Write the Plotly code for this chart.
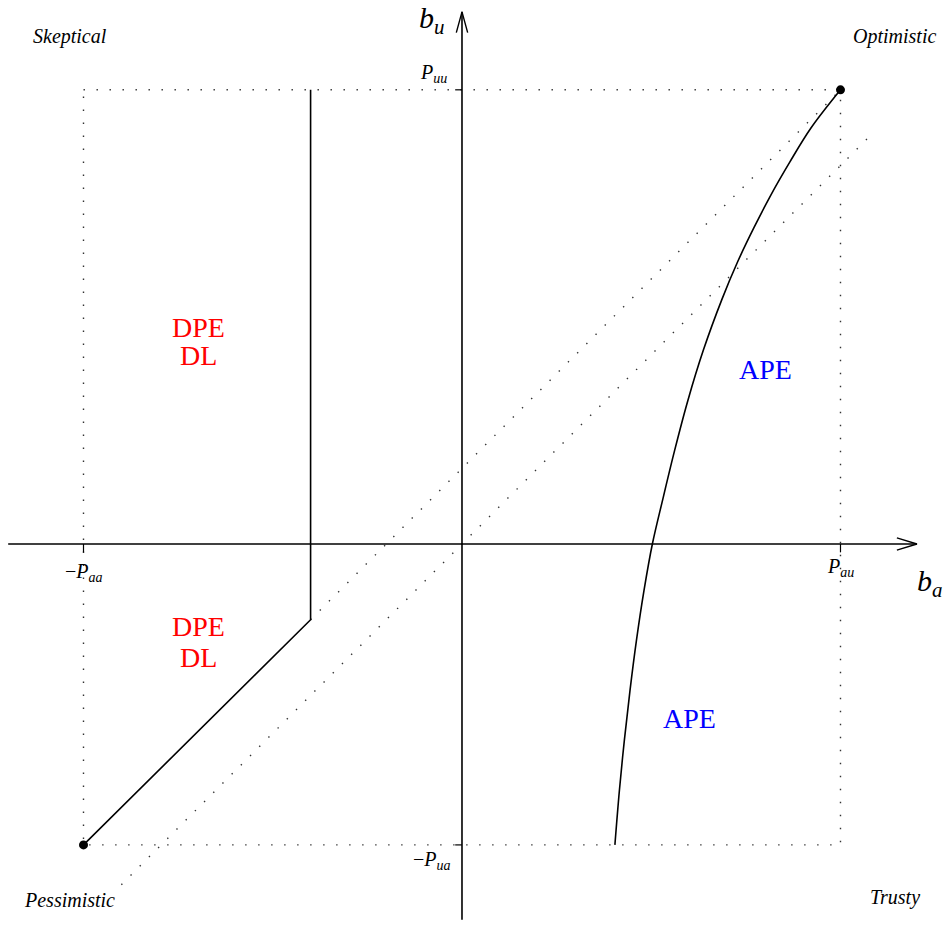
import plotly.graph_objects as go

# ---- data (normalised units, P_aa = P_au = 1) ----
paa = 1.0
pau = 1.0
puu = 1.2
pua = 0.795

# DPE/DL boundary (vertical segment then 45-degree segment)
bound_x = [-0.4, -0.4, -1.0]
bound_y = [1.2, -0.2, -0.795]

# APE boundary curve
curve_x = [1.0, 0.922, 0.866, 0.816, 0.771, 0.728, 0.687, 0.638, 0.597, 0.562,
           0.530, 0.503, 0.481, 0.461, 0.444, 0.429, 0.416, 0.404]
curve_y = [1.2, 1.099, 1.009, 0.922, 0.835, 0.745, 0.647, 0.513, 0.380, 0.248,
           0.116, 0.0, -0.122, -0.254, -0.386, -0.518, -0.650, -0.795]

# dotted diagonals
diagA_x = [-0.4, 1.0]
diagA_y = [-0.2, 1.2]
diagB_x = [-0.9, 1.09]
diagB_y = [-0.9, 1.09]

# axis extents
xaxis_ext = [-1.199, 1.202]
yaxis_ext = [-0.993, 1.406]

corner_labels = ["Skeptical", "Optimistic", "Pessimistic", "Trusty"]
dpe_lines = ["DPE", "DL"]
ape_label = "APE"

SERIF = "Liberation Serif, Times New Roman, serif"
BLK = "black"

fig = go.Figure()

def line(xs, ys, width=1.5, dash=None, color=BLK):
    fig.add_trace(go.Scatter(x=xs, y=ys, mode="lines",
                             line=dict(color=color, width=width, dash=dash),
                             hoverinfo="skip"))

# dotted rectangle
line([-paa, pau, pau, -paa, -paa], [puu, puu, -pua, -pua, puu],
     width=1.4, dash="1.4px,11.6px", color="#333")
# dotted diagonals
line(diagA_x, diagA_y, width=1.4, dash="1.4px,11.6px", color="#333")
line(diagB_x, diagB_y, width=1.4, dash="1.4px,11.6px", color="#333")

# axes
line(xaxis_ext, [0, 0], width=1.6)
line([0, 0], yaxis_ext, width=1.6)
# arrowheads (open)
hx = xaxis_ext[1]
line([hx - 0.053, hx, hx - 0.053], [0.016, 0, -0.016], width=1.4)
hy = yaxis_ext[1]
line([-0.015, 0, 0.015], [hy - 0.055, hy, hy - 0.055], width=1.4)
# ticks
line([-paa, -paa], [0, -0.022], width=1.2)
line([pau, pau], [0, -0.022], width=1.2)
line([-0.018, 0], [puu, puu], width=1.2)
line([-0.018, 0], [-pua, -pua], width=1.2)

# boundaries
line(bound_x, bound_y, width=1.6)
fig.add_trace(go.Scatter(x=curve_x, y=curve_y, mode="lines",
                         line=dict(color=BLK, width=1.6, shape="spline", smoothing=1.0),
                         hoverinfo="skip"))

# corner points
fig.add_trace(go.Scatter(x=[-paa, pau], y=[-pua, puu], mode="markers",
                         marker=dict(color=BLK, size=9), hoverinfo="skip"))

def txt(x, y, s, size, color=BLK, xanchor="center"):
    fig.add_annotation(x=x, y=y, text=s, showarrow=False, xanchor=xanchor,
                       yanchor="middle",
                       font=dict(family=SERIF, size=size, color=color))

# axis labels
txt(-0.079, 1.384, "<i>b</i><sub><i>u</i></sub>", 30)
txt(1.236, -0.103, "<i>b</i><sub><i>a</i></sub>", 30)
txt(-0.075, 1.244, "<i>P</i><sub><i>uu</i></sub>", 20)
txt(-0.078, -0.835, "\u2212<i>P</i><sub><i>ua</i></sub>", 20)
txt(-paa, -0.074, "\u2212<i>P</i><sub><i>aa</i></sub>", 20)
txt(pau, -0.063, "<i>P</i><sub><i>au</i></sub>", 20)

# corner labels
txt(-1.036, 1.342, "<i>%s</i>" % corner_labels[0], 20)
txt(1.144, 1.342, "<i>%s</i>" % corner_labels[1], 20)
txt(-1.036, -0.941, "<i>%s</i>" % corner_labels[2], 20)
txt(1.144, -0.935, "<i>%s</i>" % corner_labels[3], 20)

# region labels
txt(-0.697, 0.573, dpe_lines[0], 28, color="red")
txt(-0.697, 0.499, dpe_lines[1], 28, color="red")
txt(-0.697, -0.219, dpe_lines[0], 28, color="red")
txt(-0.697, -0.299, dpe_lines[1], 28, color="red")
txt(0.803, 0.460, ape_label, 28, color="blue")
txt(0.602, -0.460, ape_label, 28, color="blue")

fig.update_layout(
    width=949, height=925,
    margin=dict(l=0, r=0, t=0, b=0),
    paper_bgcolor="white", plot_bgcolor="white",
    showlegend=False,
    xaxis=dict(visible=False, range=[-1.2206, 1.2867], fixedrange=True),
    yaxis=dict(visible=False, range=[-1.0066, 1.4373], fixedrange=True),
)

fig.write_html("out.html", config={"displayModeBar": False},
               post_script="document.body.style.margin='0';document.body.style.overflow='hidden';")
